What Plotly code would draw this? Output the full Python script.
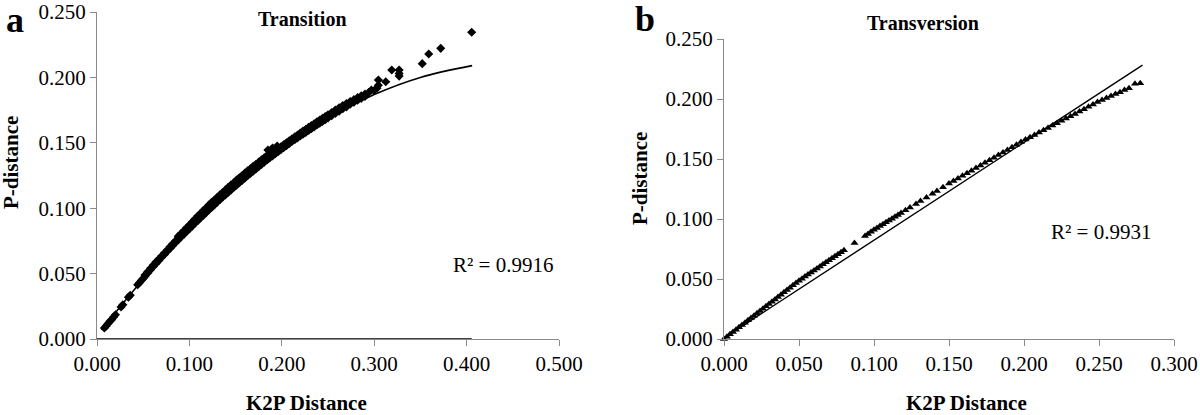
import plotly.graph_objects as go

# ---------------- Panel a: Transition ----------------
k2p_a = [0.008, 0.010, 0.012, 0.014, 0.016, 0.018, 0.020, 0.026, 0.028, 0.034, 0.036, 0.044, 0.046, 0.048, 0.050,
         0.052, 0.052, 0.055, 0.055, 0.058, 0.058, 0.061, 0.061, 0.064, 0.064, 0.067, 0.067, 0.070, 0.070,
         0.073, 0.073, 0.076, 0.076, 0.079, 0.079, 0.082, 0.082, 0.085, 0.085,
         0.088, 0.088, 0.088, 0.091, 0.091, 0.091, 0.094, 0.094, 0.094, 0.097, 0.097, 0.097,
         0.100, 0.100, 0.100, 0.103, 0.103, 0.103, 0.106, 0.106, 0.106, 0.109, 0.109, 0.109,
         0.112, 0.112, 0.112, 0.115, 0.115, 0.115, 0.118, 0.118, 0.118, 0.121, 0.121, 0.121,
         0.124, 0.124, 0.124, 0.127, 0.127, 0.127, 0.130, 0.130, 0.130, 0.133, 0.133, 0.133,
         0.136, 0.136, 0.136, 0.139, 0.139, 0.139, 0.142, 0.142, 0.142, 0.145, 0.145, 0.145,
         0.148, 0.148, 0.148, 0.151, 0.151, 0.151, 0.154, 0.154, 0.154, 0.157, 0.157, 0.157,
         0.160, 0.160, 0.160, 0.163, 0.163, 0.163, 0.166, 0.166, 0.166, 0.169, 0.169, 0.169,
         0.172, 0.172, 0.172, 0.175, 0.175, 0.175, 0.178, 0.178, 0.178, 0.181, 0.181, 0.181,
         0.184, 0.184, 0.184, 0.187, 0.187, 0.187, 0.190, 0.190, 0.190,
         0.185, 0.190, 0.195,
         0.193, 0.193, 0.196, 0.196, 0.199, 0.199, 0.202, 0.202, 0.205, 0.205, 0.208, 0.208,
         0.211, 0.211, 0.214, 0.214, 0.217, 0.217, 0.220, 0.220, 0.223, 0.223, 0.226, 0.226,
         0.229, 0.229, 0.232, 0.232, 0.235, 0.235, 0.238, 0.238, 0.241, 0.241, 0.244, 0.244,
         0.247, 0.247, 0.250, 0.250, 0.254, 0.254, 0.258, 0.258, 0.262, 0.262, 0.266, 0.266,
         0.270, 0.270, 0.274, 0.274, 0.278, 0.278, 0.282, 0.282, 0.286, 0.286, 0.290, 0.290,
         0.294, 0.297, 0.300, 0.303, 0.3045, 0.3045, 0.3125, 0.319, 0.327, 0.327, 0.327,
         0.352, 0.359, 0.372, 0.4055]
p_a = [0.0085, 0.0100, 0.0118, 0.0135, 0.0150, 0.0168, 0.0185, 0.0245, 0.0262, 0.0320, 0.0335, 0.0415, 0.0430, 0.0448, 0.0462,
       0.0490, 0.0480, 0.0515, 0.0505, 0.0540, 0.0530, 0.0565, 0.0555, 0.0590, 0.0578, 0.0612, 0.0600, 0.0635, 0.0625,
       0.0658, 0.0646, 0.0680, 0.0670, 0.0705, 0.0692, 0.0728, 0.0714, 0.0750, 0.0738,
       0.0772, 0.0758, 0.0785, 0.0795, 0.0780, 0.0806, 0.0815, 0.0800, 0.0828, 0.0838, 0.0822, 0.0850,
       0.0860, 0.0842, 0.0872, 0.0880, 0.0862, 0.0895, 0.0900, 0.0885, 0.0918, 0.0922, 0.0905, 0.0940,
       0.0942, 0.0925, 0.0960, 0.0965, 0.0945, 0.0982, 0.0985, 0.0965, 0.1002, 0.1005, 0.0986, 0.1025,
       0.1025, 0.1005, 0.1045, 0.1045, 0.1025, 0.1062, 0.1065, 0.1045, 0.1082, 0.1085, 0.1065, 0.1102,
       0.1105, 0.1085, 0.1120, 0.1123, 0.1102, 0.1140, 0.1142, 0.1120, 0.1160, 0.1160, 0.1140, 0.1178,
       0.1180, 0.1158, 0.1195, 0.1198, 0.1176, 0.1215, 0.1216, 0.1195, 0.1232, 0.1234, 0.1212, 0.1250,
       0.1252, 0.1230, 0.1268, 0.1270, 0.1248, 0.1286, 0.1288, 0.1265, 0.1302, 0.1305, 0.1282, 0.1320,
       0.1322, 0.1300, 0.1336, 0.1340, 0.1318, 0.1352, 0.1356, 0.1335, 0.1370, 0.1373, 0.1352, 0.1385,
       0.1390, 0.1368, 0.1402, 0.1406, 0.1385, 0.1418, 0.1422, 0.1400, 0.1435,
       0.1445, 0.1460, 0.1475,
       0.1438, 0.1416, 0.1455, 0.1432, 0.1470, 0.1448, 0.1485, 0.1463, 0.1500, 0.1478, 0.1515, 0.1494,
       0.1530, 0.1510, 0.1545, 0.1523, 0.1560, 0.1538, 0.1575, 0.1552, 0.1590, 0.1566, 0.1604, 0.1580,
       0.1618, 0.1594, 0.1632, 0.1608, 0.1646, 0.1622, 0.1660, 0.1636, 0.1674, 0.1650, 0.1688, 0.1663,
       0.1700, 0.1676, 0.1715, 0.1690, 0.1732, 0.1708, 0.1750, 0.1725, 0.1768, 0.1742, 0.1785, 0.1760,
       0.1800, 0.1775, 0.1815, 0.1795, 0.1830, 0.1810, 0.1845, 0.1825, 0.1860, 0.1840, 0.1872, 0.1855,
       0.1885, 0.1904, 0.1900, 0.1917, 0.1940, 0.1980, 0.1967, 0.2057, 0.2010, 0.2030, 0.2057,
       0.2105, 0.2179, 0.2222, 0.2345]

trend_a_x = [0.005, 0.05, 0.10, 0.15, 0.20, 0.25, 0.30, 0.35, 0.406]
trend_a_y = [0.0070, 0.0457, 0.0840, 0.1172, 0.1455, 0.1689, 0.1869, 0.2000, 0.2090]

# ---------------- Panel b: Transversion ----------------
k2p_b = [0.000, 0.002, 0.004, 0.006, 0.008, 0.010, 0.012, 0.014, 0.016, 0.018, 0.020, 0.022, 0.024, 0.026,
         0.028, 0.030, 0.032, 0.034, 0.036, 0.038, 0.040, 0.042, 0.044, 0.046, 0.048, 0.050,
         0.052, 0.054, 0.056, 0.058, 0.060, 0.062, 0.064, 0.066, 0.068, 0.070, 0.072, 0.074, 0.076, 0.078,
         0.080, 0.087, 0.094, 0.096, 0.098, 0.100,
         0.102, 0.104, 0.106, 0.108, 0.110, 0.112, 0.114, 0.116, 0.118, 0.121, 0.124, 0.128, 0.131, 0.135,
         0.139, 0.142, 0.146, 0.150,
         0.153, 0.156, 0.159, 0.162, 0.165, 0.168, 0.171, 0.174, 0.177, 0.180, 0.183, 0.186, 0.189, 0.192,
         0.195, 0.198,
         0.201, 0.204, 0.207, 0.210, 0.213, 0.216, 0.219, 0.222, 0.225, 0.228, 0.231, 0.234, 0.237, 0.240,
         0.243, 0.246, 0.249,
         0.252, 0.255, 0.258, 0.261, 0.264, 0.267, 0.270, 0.274, 0.2775]
p_b = [0.0000, 0.0019, 0.0039, 0.0058, 0.0078, 0.0097, 0.0117, 0.0136, 0.0156, 0.0175, 0.0194, 0.0214, 0.0233, 0.0253,
       0.0272, 0.0292, 0.0311, 0.0330, 0.0350, 0.0369, 0.0389, 0.0408, 0.0428, 0.0447, 0.0467, 0.0486,
       0.0503, 0.0520, 0.0537, 0.0554, 0.0571, 0.0588, 0.0605, 0.0622, 0.0639, 0.0656, 0.0673, 0.0690, 0.0707, 0.0723,
       0.0740, 0.0800, 0.0859, 0.0876, 0.0893, 0.0910,
       0.0925, 0.0941, 0.0956, 0.0972, 0.0987, 0.1002, 0.1018, 0.1033, 0.1049, 0.1072, 0.1095, 0.1126, 0.1149, 0.1180,
       0.1210, 0.1233, 0.1264, 0.1295,
       0.1317, 0.1338, 0.1360, 0.1381, 0.1403, 0.1425, 0.1446, 0.1468, 0.1489, 0.1511, 0.1533, 0.1554, 0.1576, 0.1597,
       0.1619, 0.1641,
       0.1662, 0.1681, 0.1701, 0.1720, 0.1740, 0.1759, 0.1779, 0.1798, 0.1818, 0.1837, 0.1857, 0.1876, 0.1896, 0.1915,
       0.1935, 0.1954, 0.1974,
       0.1991, 0.2008, 0.2024, 0.2041, 0.2057, 0.2074, 0.2090, 0.2128, 0.2131]

trend_b_x = [0.000, 0.279]
trend_b_y = [0.0008, 0.2283]

x_ticks_a = [0.0, 0.1, 0.2, 0.3, 0.4, 0.5]
x_ticks_b = [0.0, 0.05, 0.10, 0.15, 0.20, 0.25, 0.30]
y_ticks = [0.0, 0.05, 0.10, 0.15, 0.20, 0.25]

titles = ["Transition", "Transversion"]
panel_letters = ["a", "b"]
r2_labels = ["R² = 0.9916", "R² = 0.9931"]
x_title = "K2P Distance"
y_title = "P-distance"

# ---------------- layout helpers (pixels -> paper) ----------------
W, H = 1200, 415
def px(x):
    return x / W
def py(y):
    return (H - y) / H

SERIF = "Liberation Serif, Times New Roman, serif"
AXIS_GRAY = "#8a8a8a"

fig = go.Figure()

fig.add_trace(go.Scatter(x=k2p_a, y=p_a, mode="markers", xaxis="x", yaxis="y",
                         marker=dict(symbol="diamond", size=7, color="black", line=dict(width=0)),
                         cliponaxis=False, showlegend=False))
fig.add_trace(go.Scatter(x=trend_a_x, y=trend_a_y, mode="lines", xaxis="x", yaxis="y",
                         line=dict(color="black", width=1.6, shape="spline"), showlegend=False))
fig.add_trace(go.Scatter(x=[0, max(k2p_a)], y=[0, 0], mode="lines", xaxis="x", yaxis="y",
                         line=dict(color="black", width=1.5), cliponaxis=False, showlegend=False))

fig.add_trace(go.Scatter(x=k2p_b, y=p_b, mode="markers", xaxis="x2", yaxis="y2",
                         marker=dict(symbol="triangle-up", size=7, color="black", line=dict(width=0)),
                         cliponaxis=False, showlegend=False))
fig.add_trace(go.Scatter(x=trend_b_x, y=trend_b_y, mode="lines", xaxis="x2", yaxis="y2",
                         line=dict(color="black", width=1.4), showlegend=False))

axis_common = dict(showline=True, linecolor=AXIS_GRAY, linewidth=1.3, ticks="outside", ticklen=6,
                   tickcolor=AXIS_GRAY, tickwidth=1.3, showgrid=False, zeroline=False, automargin=False,
                   tickformat=".3f", tickfont=dict(family=SERIF, size=21, color="black"))

fig.update_layout(
    template="none",
    width=W, height=H, margin=dict(l=0, r=0, t=0, b=0, autoexpand=False),
    paper_bgcolor="white", plot_bgcolor="white",
    xaxis=dict(domain=[px(97), px(559)], range=[0, 0.5], tickvals=x_ticks_a, anchor="y", **axis_common),
    yaxis=dict(domain=[py(339), py(12)], range=[0, 0.25], tickvals=y_ticks, anchor="x", **axis_common),
    xaxis2=dict(domain=[px(724), px(1174)], range=[0, 0.3], tickvals=x_ticks_b, anchor="y2", **axis_common),
    yaxis2=dict(domain=[py(339), py(39)], range=[0, 0.25], tickvals=y_ticks, anchor="x2", **axis_common),
)

ann = []
def text(x, y, s, size, bold=False, angle=0, xanchor="center", yanchor="middle"):
    ann.append(dict(x=px(x), y=py(y), xref="paper", yref="paper", text=("<b>%s</b>" % s) if bold else s,
                    showarrow=False, textangle=angle, xanchor=xanchor, yanchor=yanchor,
                    font=dict(family=SERIF, size=size, color="black")))

text(302, 19, titles[0], 20, bold=True)
text(923, 23, titles[1], 20, bold=True)
text(15, 20, panel_letters[0], 36, bold=True)
text(645, 19, panel_letters[1], 36, bold=True)
text(306, 403, x_title, 21, bold=True)
text(966, 403, x_title, 21, bold=True)
text(11, 163, y_title, 21, bold=True, angle=-90)
text(640, 179, y_title, 21, bold=True, angle=-90)
text(503, 265, r2_labels[0], 21)
text(1101, 232, r2_labels[1], 21)
fig.update_layout(annotations=ann)

fig.write_html("out.html", config={"displayModeBar": False},
               post_script="document.body.style.margin='0';document.body.style.padding='0';"
                           "document.body.style.overflow='hidden';")
